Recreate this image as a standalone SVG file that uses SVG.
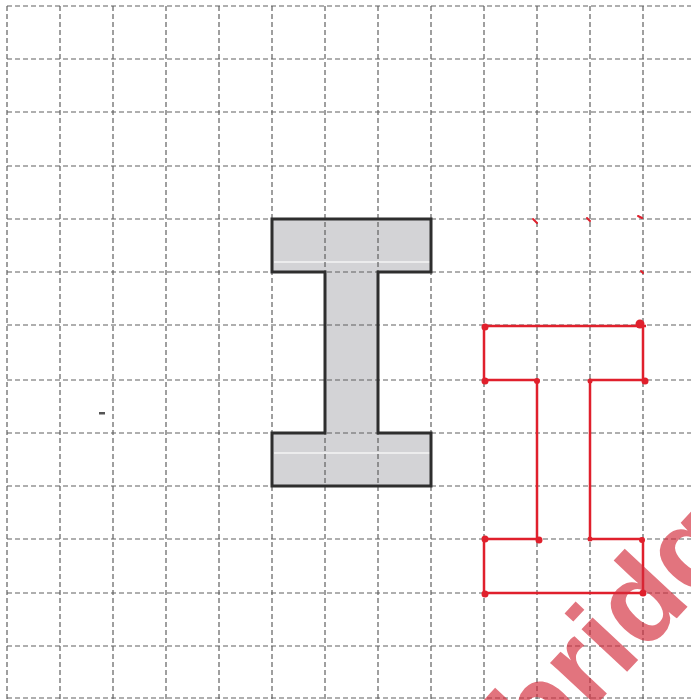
<svg xmlns="http://www.w3.org/2000/svg" width="691" height="700" viewBox="0 0 691 700">
<style>
.g{stroke:#606060;stroke-width:1.2;stroke-dasharray:5 3;fill:none}
.gray{fill:#d3d3d6;stroke:none}
.out{fill:none;stroke:#2e2e2e;stroke-width:3;stroke-linejoin:miter}
.red{fill:none;stroke:#e0202c;stroke-width:2.5;stroke-linejoin:round}
.dot{fill:#e0202c}
.tick{stroke:#e0202c;stroke-width:2;stroke-linecap:round}
.wm{font-family:"Liberation Sans",Arial,sans-serif;font-weight:bold;font-size:118px;fill:#d42a3a;opacity:0.65}
</style>
<rect width="691" height="700" fill="#ffffff"/>
<g id="grayFill">
<path class="gray" d="M272,219 H431 V272 H378 V432 H431 V486 H272 V432 H325 V272 H272 Z"/>
<line x1="274" y1="262" x2="430" y2="262" stroke="#f4f4f4" stroke-width="1.5"/>
<line x1="274" y1="453" x2="430" y2="453" stroke="#f4f4f4" stroke-width="1.5"/>
</g>
<g id="grid">
<line class="g" x1="7" y1="6" x2="7" y2="700"/>
<line class="g" x1="60" y1="6" x2="60" y2="700"/>
<line class="g" x1="113" y1="6" x2="113" y2="700"/>
<line class="g" x1="166" y1="6" x2="166" y2="700"/>
<line class="g" x1="219" y1="6" x2="219" y2="700"/>
<line class="g" x1="272" y1="6" x2="272" y2="700"/>
<line class="g" x1="325" y1="6" x2="325" y2="700"/>
<line class="g" x1="378" y1="6" x2="378" y2="700"/>
<line class="g" x1="431" y1="6" x2="431" y2="700"/>
<line class="g" x1="484" y1="6" x2="484" y2="700"/>
<line class="g" x1="537" y1="6" x2="537" y2="700"/>
<line class="g" x1="590" y1="6" x2="590" y2="700"/>
<line class="g" x1="643" y1="6" x2="643" y2="700"/>
<line class="g" x1="7" y1="6" x2="691" y2="6"/>
<line class="g" x1="7" y1="59" x2="691" y2="59"/>
<line class="g" x1="7" y1="112" x2="691" y2="112"/>
<line class="g" x1="7" y1="166" x2="691" y2="166"/>
<line class="g" x1="7" y1="219" x2="691" y2="219"/>
<line class="g" x1="7" y1="272" x2="691" y2="272"/>
<line class="g" x1="7" y1="325" x2="691" y2="325"/>
<line class="g" x1="7" y1="380" x2="691" y2="380"/>
<line class="g" x1="7" y1="433" x2="691" y2="433"/>
<line class="g" x1="7" y1="486" x2="691" y2="486"/>
<line class="g" x1="7" y1="539" x2="691" y2="539"/>
<line class="g" x1="7" y1="593" x2="691" y2="593"/>
<line class="g" x1="7" y1="646" x2="691" y2="646"/>
<line class="g" x1="7" y1="698" x2="691" y2="698"/>
</g>
<g id="grayShape">
<path class="out" d="M272,219 H431 V272 H378 V433 H431 V486 H272 V433 H325 V272 H272 Z"/>
</g>
<g id="redShape">
<path class="red" d="M484,326 H646 M643,326 V380 H590 V539 H643 V593 H484 V539 H537 V380 H484 V326"/>
<circle class="dot" cx="485" cy="327" r="3.5"/>
<circle class="dot" cx="640" cy="324" r="4.5"/>
<circle class="dot" cx="485" cy="381" r="3.5"/>
<circle class="dot" cx="537" cy="381" r="3"/>
<circle class="dot" cx="590" cy="381" r="2.5"/>
<circle class="dot" cx="645" cy="381" r="3.5"/>
<circle class="dot" cx="485" cy="539" r="3.5"/>
<circle class="dot" cx="539" cy="540" r="3.5"/>
<circle class="dot" cx="590" cy="539" r="2.5"/>
<circle class="dot" cx="642" cy="540" r="3"/>
<circle class="dot" cx="485" cy="594" r="3.5"/>
<circle class="dot" cx="643" cy="593" r="3.5"/>
</g>
<g id="marks">
<line class="tick" x1="533" y1="219" x2="537" y2="223"/>
<line class="tick" x1="587" y1="218" x2="590" y2="221"/>
<line class="tick" x1="638" y1="216" x2="642" y2="218"/>
<line class="tick" x1="641" y1="271" x2="643" y2="273"/>
<rect x="99" y="412" width="6" height="2.5" fill="#555"/>
</g>
<g id="watermark">
<text class="wm" transform="translate(541,764) rotate(-47)">bridge</text>
</g>
</svg>
